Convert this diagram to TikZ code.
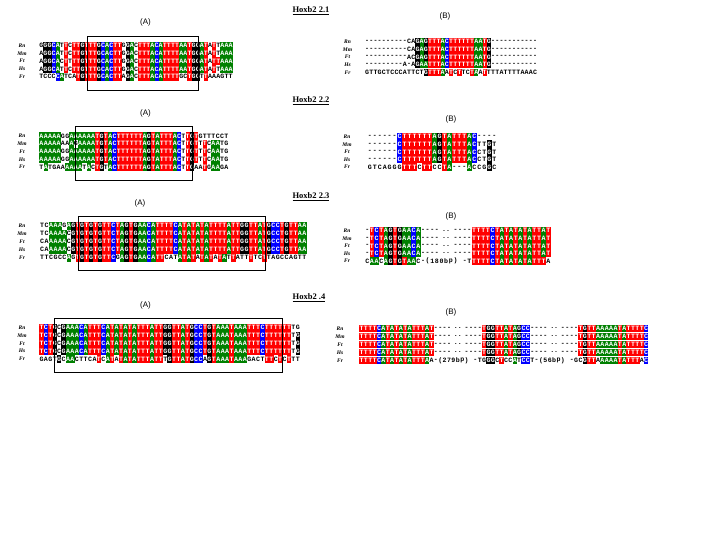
\documentclass[tikz,border=0pt]{standalone}
\usepackage{fontspec}
\setmainfont{Liberation Serif}
\setsansfont{Liberation Sans}
\setmonofont{Liberation Mono}

\definecolor{ntred}{RGB}{255,0,0}
\definecolor{ntgreen}{RGB}{0,128,0}
\definecolor{ntblue}{RGB}{0,0,255}

\newcommand{\seqfont}{\ttfamily\bfseries\fontsize{6.6}{6.6}\selectfont}
\def\seqw{4.4}
\def\seqh{7.8}

%letters that print differently from how they are typed
\expandafter\def\csname seqtxta\endcsname{A}
\expandafter\def\csname seqtxtc\endcsname{C}
\expandafter\def\csname seqtxtg\endcsname{G}
\expandafter\def\csname seqtxtt\endcsname{T}
\expandafter\def\csname seqtxtx\endcsname{}
\expandafter\def\csname seqtxt*\endcsname{..}

\makeatletter
\newcount\seqcol
\newcommand{\seqrow}[3]{% start x, y, letters
	\global\seqcol=0
	\@tfor\seqch:=#3\do{%
		\expandafter\seqcell\expandafter{\seqch}{#1}{#2}%
		\global\advance\seqcol by 1\relax}}
\newcommand{\seqcell}[3]{% letter, start x, y
	\pgfmathsetmacro{\seqx}{#2+(\the\seqcol+0.5)*\seqw}%
	\pgfkeysifdefined{/tikz/nt#1/.@cmd}{\edef\seqsty{nt#1}}{\edef\seqsty{nt}}%
	\ifcsname seqtxt#1\endcsname\edef\seqtxt{\csname seqtxt#1\endcsname}\else\def\seqtxt{#1}\fi
	\edef\seqdo{\noexpand\node[\seqsty] at (\seqx,#3) {\seqtxt};}\seqdo}
\makeatother

\tikzset{
	nt/.style={inner sep=0pt, outer sep=0pt, minimum width=\seqw pt, minimum height=\seqh pt, font=\seqfont, text=black},
	ntT/.style={nt, fill=ntred, text=white},
	ntA/.style={nt, fill=ntgreen, text=white},
	ntC/.style={nt, fill=ntblue, text=white},
	ntG/.style={nt, fill=black, text=white},
	species/.style={font=\fontsize{5.5}{6}\selectfont\bfseries\itshape},
	panel/.style={font=\sffamily\fontsize{8}{9}\selectfont},
	hoxtitle/.style={font=\bfseries\fontsize{8.5}{10}\selectfont},
	box/.style={draw, line width=0.8pt}
}

\begin{document}
\begin{tikzpicture}[x=1pt,y=-1pt]
	\useasboundingbox[fill=white] (0,0) rectangle (720,540);

	%Hoxb2 2.1
	\node[hoxtitle] (t21) at (311,11) {\underline{Hoxb2 2.1}};
	\node[panel] (t21a) at (145.5,22) {(A)};
	\node[panel] (t21b) at (445,16) {(B)};
	\def\seqw{4.115}
	\node[species] at (22,45.5) {Rn};	\seqrow{39.3}{45.5}{gGGCAtTcTTGTTTGCACTTgGAcTTTACATTTTAATGGATaTtAAA}
	\node[species] at (22,53.3) {Mm};	\seqrow{39.3}{53.3}{aGGCAtTcTTGTTTGCACTTgGAcTTTACATTTTAATGGATaTtAAA}
	\node[species] at (22,61.1) {Ft};	\seqrow{39.3}{61.1}{aGGCAcTtTTGTTTGCACTTgGAcTTTACATTTTAATGGATaTTAAA}
	\node[species] at (22,68.9) {Hs};	\seqrow{39.3}{68.9}{aGGCAtTcTTGTTTGCACTTgGAcTTTACATTTTAATGGATaTtAAA}
	\node[species] at (22,76.7) {Fr};	\seqrow{39.3}{76.7}{tcccCAtcaTGTTTGCACTTaGAcTTTACATTTTgcTGGtTaaagtt}
	\draw[box] (87.3,36.3) rectangle (198.7,90.3);
	\def\seqw{4.2}
	\node[species] at (347.5,41.7) {Rn};	\seqrow{365}{41.7}{----------caGAGTTTACTTTTTTAATG-----------}
	\node[species] at (347.5,49.3) {Mm};	\seqrow{365}{49.3}{----------caGAGTTTACTTTTTTAATG-----------}
	\node[species] at (347.5,56.9) {Ft};	\seqrow{365}{56.9}{----------acGAGTTTACTTTTTTAATG-----------}
	\node[species] at (347.5,64.5) {Hs};	\seqrow{365}{64.5}{---------a-aGAATTTACTTTTTTAATG-----------}
	\node[species] at (347.5,72.5) {Fr};	\seqrow{365}{72.5}{gttgctcccattctGTTTAaTcTtcTAaTtttattttaaac}

	%Hoxb2 2.2
	\node[hoxtitle] (t22) at (311,101) {\underline{Hoxb2 2.2}};
	\node[panel] (t22a) at (145.5,113) {(A)};
	\node[panel] (t22b) at (451,119) {(B)};
	\def\seqw{4.3}
	\node[species] at (22,136) {Rn};	\seqrow{39.3}{136}{AAAAAggAAAAAATGTACTTTTTTAGTATTTACtTGTgtttcct}
	\node[species] at (22,143.8) {Mm};	\seqrow{39.3}{143.8}{AAAAAaaAgAAAATGTACTTTTTTAGTATTTACtTGTtTcAAtg}
	\node[species] at (22,151.6) {Ft};	\seqrow{39.3}{151.6}{AAAAAggAAAAAATGTACTTTTTTAGTATTTACtTGTtTcAAtg}
	\node[species] at (22,159.4) {Hs};	\seqrow{39.3}{159.4}{AAAAAggAAAAAATGTACTTTTTTAGTATTTACtTGTtTcAAtg}
	\node[species] at (22,167.2) {Fr};	\seqrow{39.3}{167.2}{tAtgaaAAAAtAcTGtACTTTTTTAGTATTTACtTGaaTgAAga}
	\draw[box] (75.3,126.7) rectangle (192.3,180.3);
	\def\seqw{4.98}
	\node[species] at (347,136.7) {Rn};	\seqrow{367.3}{136.7}{------CTTTTTTAGTATTTAC----}
	\node[species] at (347,144.3) {Mm};	\seqrow{367.3}{144.3}{------CTTTTTTAGTATTTACttGt}
	\node[species] at (347,151.9) {Ft};	\seqrow{367.3}{151.9}{------CTTTTTTAGTATTTACctGt}
	\node[species] at (347,159.5) {Hs};	\seqrow{367.3}{159.5}{------CTTTTTTAGTATTTACctGt}
	\node[species] at (347,167.2) {Fr};	\seqrow{367.3}{167.2}{gtcagggTTTcTTccTA---AccgGc}

	%Hoxb2 2.3
	\node[hoxtitle] (t23) at (311,197) {\underline{Hoxb2 2.3}};
	\node[panel] (t23a) at (140,203) {(A)};
	\node[panel] (t23b) at (451,216) {(B)};
	\def\seqw{4.444}
	\node[species] at (22,225.7) {Rn};	\seqrow{40}{225.7}{tcAAAgAGTGTGTGTTCTAGTGAACATTTTCATATATATTTTATTGGTTATGCCTGTTAA}
	\node[species] at (22,233.7) {Mm};	\seqrow{40}{233.7}{tcAAAAcGTGTGTGTTCTAGTGAACATTTTCATATATATTTTATTGGTTATGCCTGTTAA}
	\node[species] at (22,241.7) {Ft};	\seqrow{40}{241.7}{caAAAAcGTGTGTGTTCTAGTGAACATTTTCATATATATTTTATTGGTTATGCCTGTTAA}
	\node[species] at (22,249.7) {Hs};	\seqrow{40}{249.7}{caAAAAcGTGTGTGTTCTAGTGAACATTTTCATATATATTTTATTGGTTATGCCTGTTAA}
	\node[species] at (22,257.7) {Fr};	\seqrow{40}{257.7}{ttcgccAgTGTGTGTTCgAGTGAACATTcatATATaTATaTAtTattTtcTtagccagtt}
	\draw[box] (78.3,216.7) rectangle (265,270);
	\def\seqw{4.64}
	\node[species] at (347,230.7) {Rn};	\seqrow{365}{230.7}{-TCTAGTGAACA----x*x----TTTTCTATATATATTAT}
	\node[species] at (347,238.3) {Mm};	\seqrow{365}{238.3}{-TCTAGTGAACA----x*x----TTTTCTATATATATTAT}
	\node[species] at (347,245.9) {Ft};	\seqrow{365}{245.9}{-TCTAGTGAACA----x*x----TTTTCTATATATATTAT}
	\node[species] at (347,253.5) {Hs};	\seqrow{365}{253.5}{-TCTAGTGAACA----x*x----TTTTCTATATATATTAT}
	\node[species] at (347,261.1) {Fr};	\seqrow{365}{261.1}{cAAcAGTGTAAc-(180bp)x-tTTTTCTATATATATTTa}

	%Hoxb2 .4
	\node[hoxtitle] (t24) at (309,298) {\underline{Hoxb2 .4}};
	\node[panel] (t24a) at (145.5,305) {(A)};
	\node[panel] (t24b) at (451,312) {(B)};
	\def\seqw{4.42}
	\node[species] at (22,327.7) {Rn};	\seqrow{39.3}{327.7}{TCTGcGAAACATTTCATATATATTTATTGGTTATGCCTGTAAATAAATTTCTTTTTTtg}
	\node[species] at (22,335.5) {Mm};	\seqrow{39.3}{335.5}{TCTGcGAAACATTTCATATATATTTATTGGTTATGCCTGTAAATAAATTTCTTTTTTtG}
	\node[species] at (22,343.3) {Ft};	\seqrow{39.3}{343.3}{TCTGcGAAACATTTCATATATATTTATTGGTTATGCCTGTAAATAAATTTCTTTTTTtG}
	\node[species] at (22,351.1) {Hs};	\seqrow{39.3}{351.1}{TCTGcGAAACATTTCATATATATTTATTGGTTATGCCTGTAAATAAATTTCTTTTTTtG}
	\node[species] at (22,358.9) {Fr};	\seqrow{39.3}{358.9}{gagtGcAActtcaTcATaTATATTTATTtGTTATGCCaGTAAATAAAgactTTcTcTtt}
	\draw[box] (54.3,318.3) rectangle (282.7,372.3);
	\def\seqw{4.38}
	\node[species] at (340,328.5) {Rn};	\seqrow{359.3}{328.5}{TTTTCATATATATTTAT----x*x----TGGTTATAGCC----x*x----TGTTAAAAATATTTTC}
	\node[species] at (340,336.5) {Mm};	\seqrow{359.3}{336.5}{TTTTCATATATATTTAT----x*x----TGGTTATAGCC----x*x----TGTTAAAAATATTTTC}
	\node[species] at (340,344.5) {Ft};	\seqrow{359.3}{344.5}{TTTTCATATATATTTAT----x*x----TGGTTATAGCC----x*x----TGTTAAAAATATTTTC}
	\node[species] at (340,352.5) {Hs};	\seqrow{359.3}{352.5}{TTTTCATATATATTTAT----x*x----TGGTTATAGCC----x*x----TGTTAAAAATATTTTC}
	\node[species] at (340,360.5) {Fr};	\seqrow{359.3}{360.5}{TTTTCATATATATTTAa-(279bp)x-tgGGcTccAtCCt-(56bp)x-gcGTTaAAAATATTTaC}
\end{tikzpicture}
\end{document}
